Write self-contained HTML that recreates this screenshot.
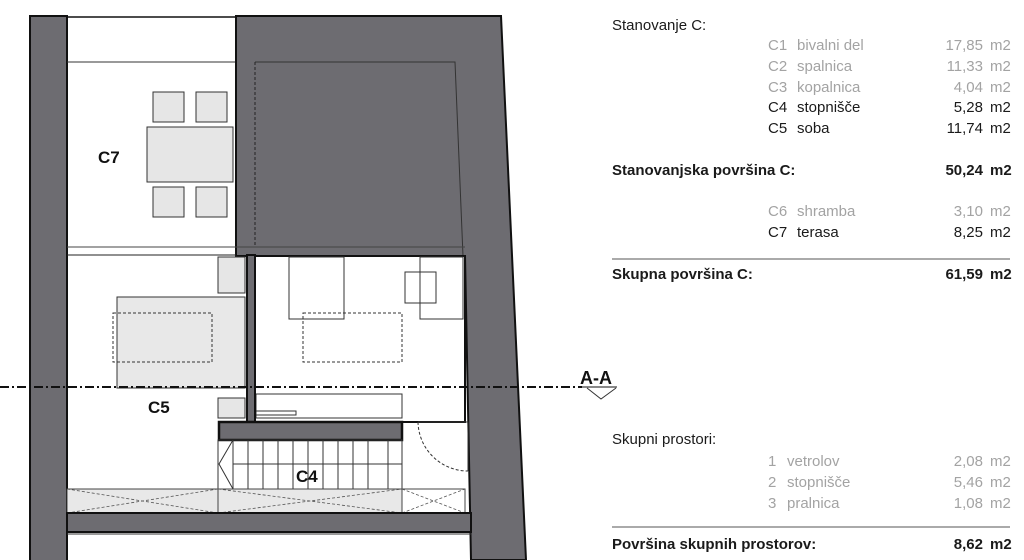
<!DOCTYPE html>
<html><head><meta charset="utf-8"><style>
html,body{margin:0;padding:0;background:#fff;}
svg{display:block}
text{font-family:"Liberation Sans",sans-serif;}
.t{font-size:15px;fill:#1a1a1a}
.g{fill:#a3a3a3}
.b{font-weight:bold}
.lab{font-size:17px;font-weight:bold;fill:#111}
</style></head><body>
<svg width="1024" height="560" viewBox="0 0 1024 560" xmlns="http://www.w3.org/2000/svg">
<!-- left wall -->
<rect x="30" y="16" width="37" height="550" fill="#6d6c71" stroke="#111" stroke-width="2"/>
<!-- terrace top -->
<line x1="67" y1="17" x2="237" y2="17" stroke="#111" stroke-width="1.5"/>
<line x1="67" y1="62" x2="237" y2="62" stroke="#333" stroke-width="1"/>
<!-- dark block + right wall -->
<path d="M236 16 L501 16 L526 560 L471 560 L465 256 L236 256 Z" fill="#6d6c71" stroke="#111" stroke-width="2"/>
<path d="M255 62 L455 62 L463 256" fill="none" stroke="#333" stroke-width="1"/>
<line x1="255" y1="62" x2="255" y2="247" stroke="#222" stroke-width="1" stroke-dasharray="3,2"/>
<line x1="67" y1="247" x2="465" y2="247" stroke="#444" stroke-width="1"/>
<line x1="67" y1="255" x2="236" y2="255" stroke="#222" stroke-width="1"/>
<!-- table and chairs -->
<g fill="#e6e6e6" stroke="#333" stroke-width="1">
<rect x="153" y="92" width="31" height="30"/><rect x="196" y="92" width="31" height="30"/>
<rect x="147" y="127" width="86" height="55"/>
<rect x="153" y="187" width="31" height="30"/><rect x="196" y="187" width="31" height="30"/>
</g>
<text x="98" y="163" class="lab">C7</text>
<!-- right room -->
<rect x="255" y="256" width="210" height="166" fill="#fff" stroke="#111" stroke-width="2"/>
<g fill="none" stroke="#333" stroke-width="1">
<rect x="289" y="257" width="55" height="62"/>
<rect x="420" y="257" width="43" height="62"/>
<rect x="405" y="272" width="31" height="31"/>
<rect x="303" y="313" width="99" height="49" stroke-dasharray="3,2"/>
<rect x="256" y="394" width="146" height="24"/>
<rect x="256" y="411" width="40" height="4"/>
<rect x="113" y="313" width="99" height="49" stroke-dasharray="3,2"/>
</g>
<!-- bed C5 -->
<rect x="117" y="297" width="128" height="91" fill="#e8e8e8" stroke="#333"/>
<rect x="113" y="313" width="99" height="49" fill="none" stroke="#333" stroke-dasharray="3,2"/>
<rect x="218" y="257" width="27" height="36" fill="#e6e6e6" stroke="#333"/>
<rect x="218" y="398" width="27" height="20" fill="#e6e6e6" stroke="#333"/>
<!-- vertical thick wall -->
<rect x="247" y="255" width="8" height="167" fill="#6d6c71" stroke="#111" stroke-width="2"/>
<!-- horizontal thick wall -->
<rect x="219" y="422" width="183" height="18" fill="#6d6c71" stroke="#111" stroke-width="2.5"/>
<!-- stairs -->
<g stroke="#333" stroke-width="1" fill="none">
<rect x="218" y="440" width="184" height="49"/>
<line x1="233" y1="440" x2="233" y2="489"/>
<line x1="248" y1="440" x2="248" y2="489"/><line x1="263" y1="440" x2="263" y2="489"/>
<line x1="278" y1="440" x2="278" y2="489"/><line x1="293" y1="440" x2="293" y2="489"/>
<line x1="308" y1="440" x2="308" y2="489"/><line x1="323" y1="440" x2="323" y2="489"/>
<line x1="338" y1="440" x2="338" y2="489"/><line x1="353" y1="440" x2="353" y2="489"/>
<line x1="368" y1="440" x2="368" y2="489"/><line x1="388" y1="440" x2="388" y2="489"/>
<line x1="233" y1="464" x2="402" y2="464"/>
<path d="M233 440 L219 464 L233 489"/>
</g>
<text x="296" y="482" class="lab">C4</text>
<text x="148" y="413" class="lab">C5</text>
<!-- door -->
<path d="M418 422 L468 422 L468 471" fill="none" stroke="#333"/>
<path d="M418 422 A50 50 0 0 0 468 471" fill="none" stroke="#333" stroke-dasharray="3,2"/>
<!-- crossed band -->
<rect x="67" y="489" width="151" height="24" fill="#e8e8e8" stroke="#444"/>
<rect x="218" y="489" width="184" height="24" fill="#e8e8e8" stroke="#444"/>
<rect x="402" y="489" width="63" height="24" fill="#fff" stroke="#444"/>
<g stroke="#555" stroke-dasharray="3,2" stroke-width="0.8">
<line x1="67" y1="489" x2="218" y2="513"/><line x1="67" y1="513" x2="218" y2="489"/>
<line x1="218" y1="489" x2="402" y2="513"/><line x1="218" y1="513" x2="402" y2="489"/>
<line x1="402" y1="489" x2="465" y2="513"/><line x1="402" y1="513" x2="465" y2="489"/>
</g>
<rect x="67" y="513" width="404" height="19" fill="#6d6c71" stroke="#111" stroke-width="2"/>
<line x1="67" y1="534" x2="471" y2="534" stroke="#333"/>
<!-- section line -->
<line x1="0" y1="387" x2="582" y2="387" stroke="#111" stroke-width="2" stroke-dasharray="9,3,2,3"/>
<line x1="582" y1="387" x2="617" y2="387" stroke="#111" stroke-width="1"/>
<path d="M587 388 L601 399 L616 388" fill="none" stroke="#333" stroke-width="1"/>
<text x="580" y="384" style="font-size:18px;font-weight:bold;fill:#111">A-A</text>
<!-- table text -->
<text x="612" y="30" class="t">Stanovanje C:</text>
<g class="t g">
<text x="768" y="50">C1</text><text x="797" y="50">bivalni del</text><text x="983" y="50" text-anchor="end">17,85</text><text x="990" y="50">m2</text>
<text x="768" y="71">C2</text><text x="797" y="71">spalnica</text><text x="983" y="71" text-anchor="end">11,33</text><text x="990" y="71">m2</text>
<text x="768" y="92">C3</text><text x="797" y="92">kopalnica</text><text x="983" y="92" text-anchor="end">4,04</text><text x="990" y="92">m2</text>
</g>
<text x="768" y="112" class="t">C4</text><text x="797" y="112" class="t">stopnišče</text><text x="983" y="112" class="t" text-anchor="end">5,28</text><text x="990" y="112" class="t">m2</text>
<text x="768" y="133" class="t">C5</text><text x="797" y="133" class="t">soba</text><text x="983" y="133" class="t" text-anchor="end">11,74</text><text x="990" y="133" class="t">m2</text>
<text x="612" y="175" class="t b">Stanovanjska površina C:</text><text x="983" y="175" class="t b" text-anchor="end">50,24</text><text x="990" y="175" class="t b">m2</text>
<g class="t g">
<text x="768" y="216">C6</text><text x="797" y="216">shramba</text><text x="983" y="216" text-anchor="end">3,10</text><text x="990" y="216">m2</text>
</g>
<text x="768" y="237" class="t">C7</text><text x="797" y="237" class="t">terasa</text><text x="983" y="237" class="t" text-anchor="end">8,25</text><text x="990" y="237" class="t">m2</text>
<line x1="612" y1="259" x2="1010" y2="259" stroke="#555" stroke-width="1"/>
<text x="612" y="279" class="t b">Skupna površina C:</text><text x="983" y="279" class="t b" text-anchor="end">61,59</text><text x="990" y="279" class="t b">m2</text>
<text x="612" y="444" class="t">Skupni prostori:</text>
<g class="t g">
<text x="768" y="466">1</text><text x="787" y="466">vetrolov</text><text x="983" y="466" text-anchor="end">2,08</text><text x="990" y="466">m2</text>
<text x="768" y="487">2</text><text x="787" y="487">stopnišče</text><text x="983" y="487" text-anchor="end">5,46</text><text x="990" y="487">m2</text>
<text x="768" y="508">3</text><text x="787" y="508">pralnica</text><text x="983" y="508" text-anchor="end">1,08</text><text x="990" y="508">m2</text>
</g>
<line x1="612" y1="527" x2="1010" y2="527" stroke="#555" stroke-width="1"/>
<text x="612" y="549" class="t b">Površina skupnih prostorov:</text><text x="983" y="549" class="t b" text-anchor="end">8,62</text><text x="990" y="549" class="t b">m2</text>
</svg>
</body></html>
